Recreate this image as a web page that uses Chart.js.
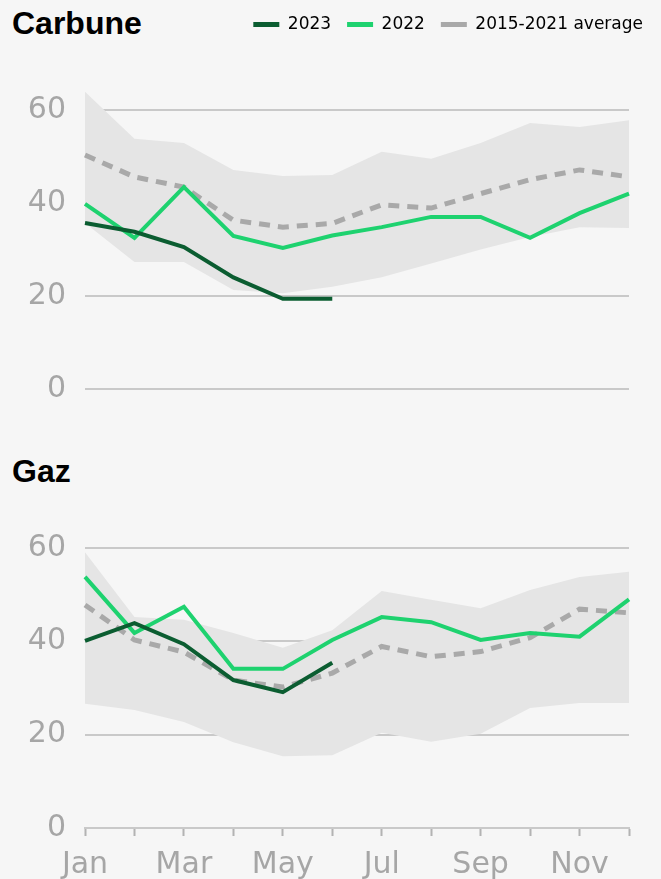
<!DOCTYPE html>
<html>
<head>
<meta charset="utf-8">
<script src="https://cdn.jsdelivr.net/npm/chart.js@4.4.1/dist/chart.umd.min.js"></script>
<style>
  html, body { margin: 0; padding: 0; background: #f6f6f6; }
  body { width: 661px; height: 879px; position: relative; overflow: hidden; }
  .title { position: absolute; left: 12px; margin: 0; font: bold 32px "Liberation Sans", Arial, sans-serif; color: #000; line-height: normal; }
  canvas { position: absolute; left: 0; }
</style>
</head>
<body>
<div class="title" style="top:5px">Carbune</div>
<canvas id="carbune" width="661" height="410" style="top:0"></canvas>
<div class="title" style="top:453px">Gaz</div>
<canvas id="gaz" width="661" height="439" style="top:440px"></canvas>
<script>
const months = ["Jan", "Feb", "Mar", "Apr", "May", "Jun", "Jul", "Aug", "Sep", "Oct", "Nov", "Dec"];
const yTicks = [0, 20, 40, 60];
const seriesNames = ["2023", "2022", "2015-2021 average"];

// Carbune
const coal2023 = [35.7, 33.8, 30.5, 24, 19.4, 19.4];
const coal2022 = [39.8, 32.5, 43.4, 32.9, 30.3, 33, 34.8, 37, 37, 32.5, 37.8, 42];
const coalAvg = [50.3, 45.6, 43.4, 36.3, 34.8, 35.6, 39.6, 38.9, 42, 45, 47.1, 45.6];
const coalMin = [35.7, 27.3, 27.3, 21.3, 20.6, 22, 24, 27, 30, 32.7, 34.8, 34.6];
const coalMax = [63.9, 53.8, 52.9, 47.1, 45.8, 46, 51, 49.5, 52.9, 57.2, 56.3, 57.8];

// Gaz
const gas2023 = [40.1, 43.9, 39.4, 31.7, 29.1, 35.4];
const gas2022 = [53.8, 41.8, 47.4, 34.1, 34.1, 40.3, 45.2, 44.1, 40.3, 41.8, 41, 49];
const gasAvg = [47.8, 40.3, 37.7, 31.7, 30.2, 33.2, 38.9, 36.7, 37.8, 40.8, 46.9, 46.1];
const gasMin = [26.6, 25.3, 22.7, 18.4, 15.4, 15.6, 20.4, 18.5, 20.2, 25.7, 26.8, 26.8];
const gasMax = [59.1, 45.2, 44.6, 41.8, 38.6, 42.4, 50.8, 48.9, 47.1, 51, 53.8, 54.9];

const colors = ["#0b5d31", "#1ed26f", "#a9a9a9"];
const gridColor = "#c9c9c9";
const tickFont = { family: "'DejaVu Sans', sans-serif", size: 30 };
const tickColor = "#a6a6a6";

function datasets(d23, d22, avg, lo, hi) {
  return [
    { label: seriesNames[0], data: d23, borderColor: colors[0], borderWidth: 4, order: 0 },
    { label: seriesNames[1], data: d22, borderColor: colors[1], borderWidth: 4, order: 1 },
    { label: seriesNames[2], data: avg, borderColor: colors[2], borderWidth: 5, borderDash: [11, 8], order: 2 },
    { label: "min", data: lo, borderWidth: 0, borderColor: "rgba(0,0,0,0)", fill: false, order: 3 },
    { label: "max", data: hi, borderWidth: 0, borderColor: "rgba(0,0,0,0)", backgroundColor: "#e5e5e5", fill: "-1", order: 4 },
  ];
}

function yScale() {
  return {
    min: 0,
    max: 66,
    afterBuildTicks: (axis) => { axis.ticks = yTicks.map((v) => ({ value: v })); },
    afterFit: (axis) => {
      axis.width = 85;
      axis.paddingTop = 0;
      axis.paddingBottom = 0;
    },
    grid: { color: gridColor, lineWidth: 2, drawTicks: false },
    border: { display: false },
    ticks: { padding: 19, color: tickColor, font: tickFont },
  };
}

const common = {
  responsive: false,
  animation: false,
  devicePixelRatio: 1,
  elements: { point: { radius: 0 }, line: { tension: 0, borderCapStyle: "butt" } },
};

// push the plot area down below the legend row
const legendHeight = {
  id: "legendHeight",
  beforeInit(chart) {
    const fit = chart.legend.fit;
    chart.legend.fit = function () {
      fit.bind(chart.legend)();
      this.height = 82;
    };
  },
};

new Chart(document.getElementById("carbune"), {
  type: "line",
  data: { labels: months, datasets: datasets(coal2023, coal2022, coalAvg, coalMin, coalMax) },
  options: {
    ...common,
    layout: { padding: { left: 0, right: 2, top: 0, bottom: 21 } },
    scales: {
      x: { display: false },
      y: yScale(),
      spacer: {
        position: "right",
        grid: { display: false },
        border: { display: false },
        ticks: { display: false },
        afterFit: (axis) => { axis.width = 30; },
      },
    },
    plugins: {
      tooltip: { enabled: false },
      legend: {
        position: "top",
        align: "end",
        labels: {
          boxWidth: 26,
          boxHeight: 5,
          padding: 16,
          color: "#505050",
          font: { family: "'DejaVu Sans', sans-serif", size: 17 },
          generateLabels: () => seriesNames.map((name, i) => ({
            text: name, fillStyle: colors[i], strokeStyle: colors[i], lineWidth: 0, hidden: false, datasetIndex: i,
          })),
        },
      },
    },
  },
  plugins: [legendHeight],
});

new Chart(document.getElementById("gaz"), {
  type: "line",
  data: { labels: months, datasets: datasets(gas2023, gas2022, gasAvg, gasMin, gasMax) },
  options: {
    ...common,
    layout: { padding: { left: 0, right: 32, top: 80, bottom: 0 } },
    scales: {
      x: {
        afterFit: (axis) => { axis.height = 51; },
        grid: { drawOnChartArea: false, drawTicks: true, tickLength: 8, tickColor: "#b3b3b3", tickWidth: 2 },
        border: { display: true, color: gridColor, width: 2 },
        ticks: {
          autoSkip: false,
          maxRotation: 0,
          padding: 11,
          color: tickColor,
          font: tickFont,
          callback: (v, i) => (i % 2 === 0 ? months[i] : ""),
        },
      },
      y: yScale(),
    },
    plugins: { legend: { display: false }, tooltip: { enabled: false } },
  },
});
</script>
</body>
</html>
